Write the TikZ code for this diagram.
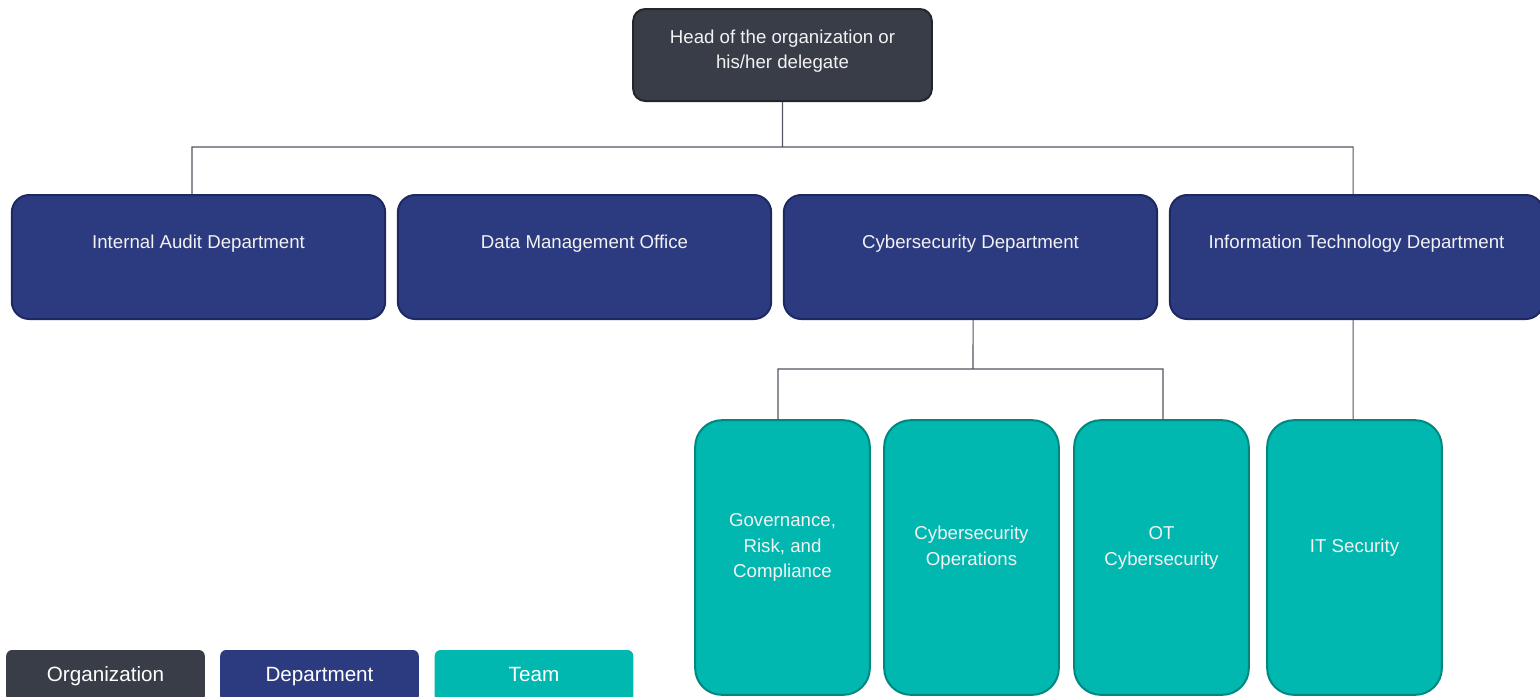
\documentclass[tikz,border=0pt]{standalone}
\usepackage{fontspec}
\setmainfont{Liberation Sans}
\definecolor{orgfill}{HTML}{383D48}
\definecolor{orgline}{HTML}{23262D}
\definecolor{depfill}{HTML}{2C3A80}
\definecolor{depline}{HTML}{1E2961}
\definecolor{teamfill}{HTML}{00B8AF}
\definecolor{teamline}{HTML}{00877F}
\definecolor{linkcol}{HTML}{50555F}
\definecolor{txtcol}{HTML}{F2F2F2}

\begin{document}
\begin{tikzpicture}[x=0.75pt,y=-0.75pt,
  box/.style={rectangle,line width=1.5pt,text=txtcol,font=\fontsize{14}{19.5}\selectfont},
  org node/.style={box,fill=orgfill,draw=orgline,rounded corners=9pt,
    minimum width=224pt,minimum height=69pt},
  dep node/.style={box,fill=depfill,draw=depline,rounded corners=13pt,
    minimum width=280pt,inner ysep=0pt,text height=39.75pt,text depth=53.25pt},
  team node/.style={box,fill=teamfill,draw=teamline,rounded corners=20pt,
    minimum width=131pt,minimum height=206pt},
  inner text/.style={text=txtcol,align=center,font=\fontsize{14}{19.2}\selectfont},
  legend node/.style={rectangle,rounded corners=4.5pt,text=white,inner sep=0pt,
    minimum width=149pt,minimum height=39pt,text height=11pt,text depth=3.5pt,
    font=\fontsize{15.5}{18}\selectfont},
  link/.style={draw=linkcol,line width=0.8pt}]

  \useasboundingbox (0,0) rectangle (1540,696);

  % head of the organization
  \node[org node,label={[inner text,yshift=3pt]center:{Head of the organization or\\his/her delegate}}]
    (head) at (782.5,55) {};

  % departments
  \node[dep node] (audit) at (198.5,257) {Internal Audit Department};
  \node[dep node] (dmo)   at (584.5,257) {Data Management Office};
  \node[dep node] (cyber) at (970.5,257) {Cybersecurity Department};
  \node[dep node] (itd)   at (1356.5,257) {Information Technology Department};

  % teams
  \node[team node,label={[inner text,yshift=7.3pt]center:{Governance,\\Risk, and\\Compliance}}]
    (grc) at (782.5,557.5) {};
  \node[team node,label={[inner text,yshift=7.3pt]center:{Cybersecurity\\Operations}}]
    (ops) at (971.5,557.5) {};
  \node[team node,label={[inner text,yshift=7.3pt]center:{OT\\Cybersecurity}}]
    (ot) at (1161.5,557.5) {};
  \node[team node,label={[inner text,yshift=7.3pt]center:{IT Security}}]
    (itsec) at (1354.5,557.5) {};

  % legend
  \node[legend node,fill=orgfill]  (legorg)  at (105.5,676) {Organization};
  \node[legend node,fill=depfill]  (legdep)  at (319.5,676) {Department};
  \node[legend node,fill=teamfill] (legteam) at (534,676) {Team};

  % connectors
  \coordinate (headbus)  at (782.5,147);
  \coordinate (cyberbus) at (973,369);

  \path[link]
    (head.south) -- (headbus)
    ([xshift=-4.9pt]audit.north) |- (headbus) -| ([xshift=-2.6pt]itd.north)
    ([xshift=1.9pt]cyber.south) -- (cyberbus)
    ([xshift=-3.4pt]grc.north) |- (cyberbus) -| ([xshift=1.1pt]ot.north)
    ([xshift=-2.6pt]itd.south) -- ([xshift=-1.1pt]itsec.north);

\end{tikzpicture}
\end{document}
